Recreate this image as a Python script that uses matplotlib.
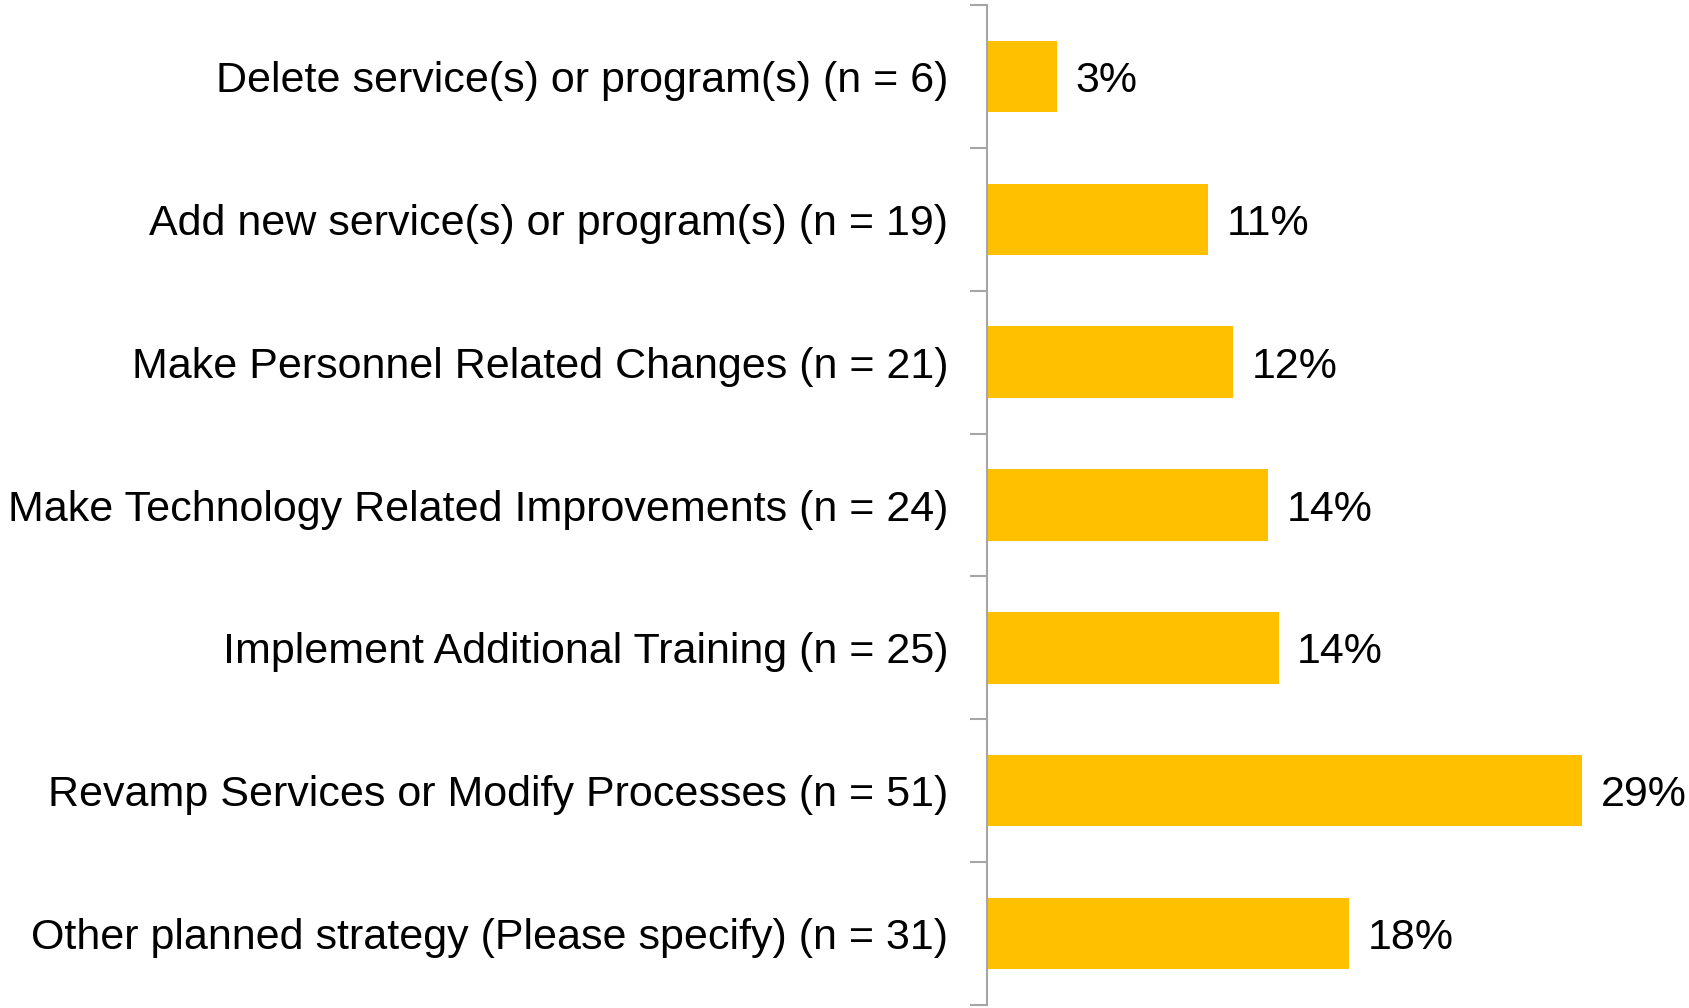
import matplotlib
matplotlib.use('Agg')
import matplotlib.pyplot as plt

plt.rcParams['font.family'] = ['Liberation Sans', 'DejaVu Sans']

categories = ['Delete service(s) or program(s) (n = 6)',
              'Add new service(s) or program(s) (n = 19)',
              'Make Personnel Related Changes (n = 21)',
              'Make Technology Related Improvements (n = 24)',
              'Implement Additional Training (n = 25)',
              'Revamp Services or Modify Processes (n = 51)',
              'Other planned strategy (Please specify) (n = 31)']
percent = [3.4, 10.7, 11.9, 13.6, 14.1, 28.8, 17.5]
value_labels = ['3%', '11%', '12%', '14%', '14%', '29%', '18%']

barColor = '#FFC000'
axisColor = '#A6A6A6'
plotfontsize = 31

fig = plt.figure(figsize=(16.9, 10.08), dpi=100)
ax = fig.add_axes([0.584, 0.003, 0.416, 0.992])

ypos = list(range(len(categories)))
ax.barh(ypos, percent, height=0.5, color=barColor)
for y, v, s in zip(ypos, percent, value_labels):
    ax.text(v + 0.9, y, s, va='center_baseline', ha='left',
            fontsize=plotfontsize, color='k')

ax.set_ylim(len(categories) - 0.5, -0.5)
ax.set_xlim(0, 34)
ax.set_yticks(ypos)
ax.set_yticklabels(categories, fontsize=plotfontsize, va='center_baseline')
ax.tick_params(axis='y', length=0, pad=28)
ax.set_yticks([y - 0.5 for y in ypos] + [len(categories) - 0.5], minor=True)
ax.tick_params(axis='y', which='minor', length=12, width=1.5,
               color=axisColor)
ax.set_xticks([])
for side in ['top', 'right', 'bottom']:
    ax.spines[side].set_visible(False)
ax.spines['left'].set_color(axisColor)
ax.spines['left'].set_linewidth(1.5)

fig.savefig('out.png', dpi=100)
